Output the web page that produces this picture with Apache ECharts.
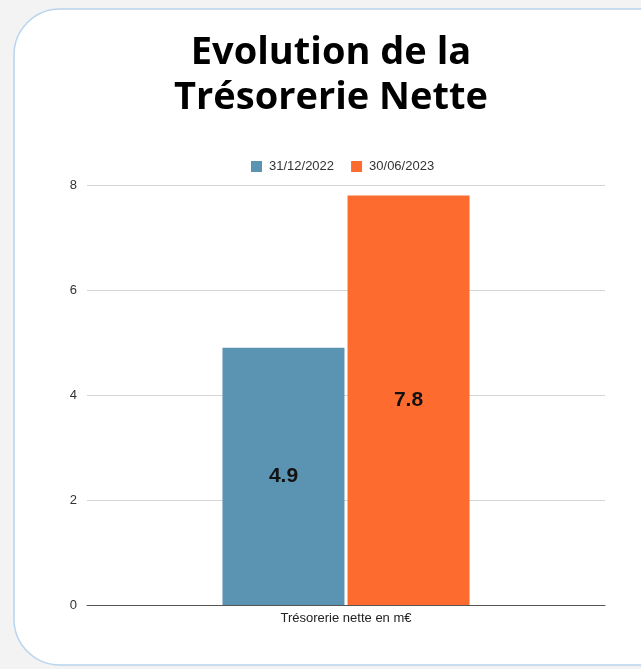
<!DOCTYPE html>
<html>
<head>
<meta charset="utf-8">
<script src="https://cdn.jsdelivr.net/npm/echarts@6/dist/echarts.min.js"></script>
<style>
  html, body { margin: 0; padding: 0; background: #f3f3f3; }
  #chart-container { width: 641px; height: 669px; }
</style>
</head>
<body>
<div id="chart-container"></div>
<script>
let categories = ['Trésorerie nette en m€']
let seriesNames = ['31/12/2022', '30/06/2023']
let values2022 = [4.9]
let values2023 = [7.8]
let colors = ['#5b93b3', '#fe6b2f']

let dom = document.getElementById('chart-container')
let myChart = echarts.init(dom, null, { renderer: 'canvas' })

let option = {
  animation: false,
  textStyle: { fontFamily: 'Liberation Sans, Arial, sans-serif' },
  graphic: [
    {
      // the white card behind the chart
      type: 'rect',
      z: -10,
      silent: true,
      shape: { x: 14, y: 9, width: 680, height: 656, r: 46 },
      style: { fill: '#ffffff', stroke: '#b9d4ee', lineWidth: 1.5 }
    }
  ],
  title: {
    text: 'Evolution de la\nTrésorerie Nette',
    left: 326,
    textAlign: 'center',
    top: 26,
    textStyle: {
      fontFamily: 'Open Sans',
      fontWeight: 'bold',
      fontSize: 38,
      lineHeight: 45,
      color: '#000'
    }
  },
  legend: {
    top: 155,
    left: 246,
    itemWidth: 11,
    itemHeight: 11,
    itemGap: 17,
    itemStyle: {},
    icon: 'rect',
    textStyle: { fontSize: 13, color: '#333', padding: [0, 0, 0, 2] },
    data: seriesNames
  },
  grid: { left: 87, right: 36, top: 185, bottom: 64, containLabel: false },
  xAxis: {
    type: 'category',
    data: categories,
    axisTick: { show: false },
    axisLine: { lineStyle: { color: '#555', width: 1 } },
    axisLabel: { fontSize: 13, color: '#222', margin: 7 }
  },
  yAxis: {
    type: 'value',
    min: 0,
    max: 8,
    interval: 2,
    axisLabel: { fontSize: 13, color: '#333', margin: 10 },
    splitLine: { lineStyle: { color: '#d6d6d6' } }
  },
  series: [
    {
      name: seriesNames[0],
      type: 'bar',
      data: values2022,
      barWidth: 122,
      barGap: '2.5%',
      itemStyle: { color: colors[0] },
      label: { show: true, position: 'inside', fontSize: 21, fontWeight: 'bold', color: '#111' }
    },
    {
      name: seriesNames[1],
      type: 'bar',
      data: values2023,
      barWidth: 122,
      barGap: '2.5%',
      itemStyle: { color: colors[1] },
      label: { show: true, position: 'inside', fontSize: 21, fontWeight: 'bold', color: '#111' }
    }
  ]
}

myChart.setOption(option)
window.addEventListener('resize', myChart.resize)
</script>
</body>
</html>
